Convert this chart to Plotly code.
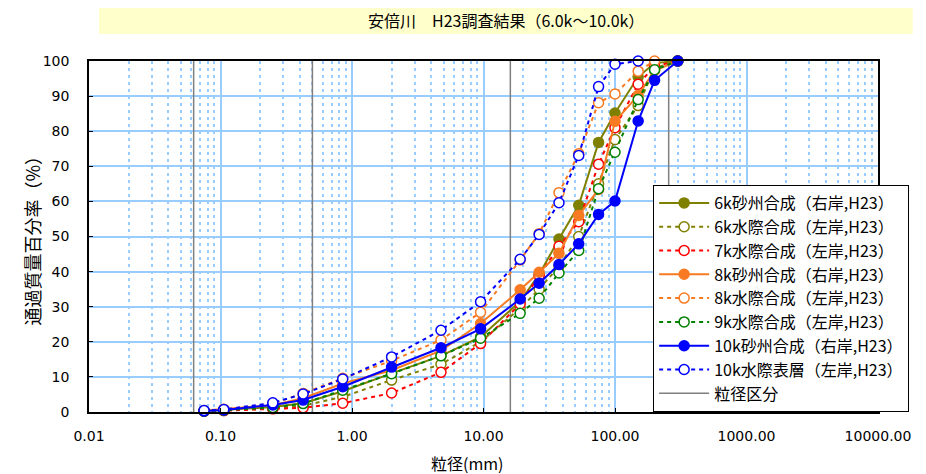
import plotly.graph_objects as go

# sieve sizes (mm)
sizes = [0.075, 0.106, 0.25, 0.425, 0.85, 2, 4.75, 9.5, 19, 26.5, 37.5, 53, 75, 100, 150, 200, 300]

s6_bar   = [0.3, 0.6, 1.4, 2.5, 5.9, 11.0, 16.0, 21.4, 31.5, 39.2, 49.3, 58.9, 76.8, 85.2, 95.5, 99.4, 100]
s6_edge  = [0.2, 0.4, 1.0, 1.8, 4.3, 9.1, 13.6, 20.0, 29.5, 35.0, 41.5, 50.0, 65.0, 77.6, 87.3, 98.0, 100]
s7_edge  = [0.2, 0.4, 0.9, 1.2, 2.5, 5.4, 11.3, 19.5, 30.8, 38.9, 47.2, 54.2, 70.6, 81.0, 93.4, 98.5, 100]
s8_bar   = [0.4, 0.8, 1.9, 3.9, 8.1, 11.9, 17.5, 25.2, 34.8, 39.8, 45.2, 56.0, 63.4, 82.8, 90.2, 97.3, 100]
s8_edge  = [0.3, 0.6, 2.4, 5.3, 9.6, 14.6, 20.5, 28.4, 43.3, 50.8, 62.5, 73.6, 88.1, 90.6, 97.1, 100, None]
s9_edge  = [0.2, 0.5, 1.3, 2.4, 6.2, 10.9, 16.0, 21.0, 28.1, 32.4, 39.6, 46.0, 63.6, 74.0, 89.0, 97.5, 100]
s10_bar  = [0.3, 0.6, 2.0, 3.4, 7.2, 12.8, 18.3, 23.7, 32.2, 36.7, 42.0, 47.9, 56.3, 60.1, 82.9, 94.5, 100]
s10_surf = [0.4, 0.7, 2.6, 5.1, 9.4, 15.7, 23.3, 31.4, 43.5, 50.6, 59.6, 73.1, 92.7, 99.1, 100, None, None]

names = ["6k砂州合成（右岸,H23）", "6k水際合成（左岸,H23）", "7k水際合成（左岸,H23）",
         "8k砂州合成（右岸,H23）", "8k水際合成（左岸,H23）", "9k水際合成（左岸,H23）",
         "10k砂州合成（右岸,H23）", "10k水際表層（左岸,H23）"]
series = [s6_bar, s6_edge, s7_edge, s8_bar, s8_edge, s9_edge, s10_bar, s10_surf]
colors = ["#808000", "#808000", "#FF0000", "#F87A22", "#F87A22", "#008000", "#0000FF", "#0000FF"]
filled = [True, False, False, True, False, False, True, False]

class_bounds = [0.0625, 0.5, 16, 256]

x_ticks = [0.01, 0.1, 1, 10, 100, 1000, 10000]
x_ticktext = ["0.01", "0.10", "1.00", "10.00", "100.00", "1000.00", "10000.00"]

GRID = "#99CCFF"
fig = go.Figure()

# grain size class boundaries
gx, gy = [], []
for b in class_bounds:
    gx += [b, b, None]
    gy += [0, 100, None]
fig.add_trace(go.Scatter(x=gx, y=gy, mode="lines", name="粒径区分",
                         line=dict(color="#7F7F7F", width=1.5), legendrank=9))

for i, (nm, ys, c, f) in enumerate(zip(names, series, colors, filled)):
    xs = [s for s, v in zip(sizes, ys) if v is not None]
    yv = [v for v in ys if v is not None]
    fig.add_trace(go.Scatter(
        x=xs, y=yv, mode="lines+markers", name=nm, legendrank=i + 1,
        cliponaxis=False,
        line=dict(color=c, width=2, dash=None if f else "4px,4px"),
        marker=dict(symbol="circle", size=10,
                    color=c if f else "white",
                    line=dict(color=c, width=1.5)),
    ))

minor_vals = [m * 10 ** k for k in range(-2, 4) for m in range(2, 10)]

fig.update_layout(
    width=919, height=467,
    margin=dict(l=81, r=49, t=53, b=63, autoexpand=False),
    paper_bgcolor="white", plot_bgcolor="white",
    font=dict(family="DejaVu Sans", size=14, color="black"),
    showlegend=True,
    legend=dict(x=0.715, y=0, xanchor="left", yanchor="bottom",
                bgcolor="white", bordercolor="black", borderwidth=1,
                font=dict(family="Noto Sans CJK JP", size=16),
                itemwidth=50, tracegroupgap=0),
    xaxis=dict(type="log", range=[-2, 4],
               tickvals=x_ticks, ticktext=x_ticktext,
               showgrid=True, gridcolor=GRID, gridwidth=2,
               showline=True, linecolor="black", linewidth=1.5, mirror=True,
               ticks="inside", ticklen=4, tickcolor="black",
               ticklabelstandoff=10, automargin=False,
               minor=dict(tickvals=minor_vals, showgrid=True, gridcolor=GRID,
                          gridwidth=2, griddash="3px,4px", ticks=""),
               zeroline=False),
    yaxis=dict(range=[0, 100], dtick=10, tick0=0,
               showgrid=True, gridcolor=GRID, gridwidth=2,
               showline=True, linecolor="black", linewidth=1.5, mirror=True,
               ticks="inside", ticklen=4, tickcolor="black",
               ticklabelstandoff=15, automargin=False, zeroline=False),
    shapes=[dict(type="rect", xref="paper", yref="paper",
                 x0=0.0127, x1=1.044, y0=1.077, y1=1.157,
                 fillcolor="#FFFFCC", line=dict(width=0), layer="below")],
    annotations=[
        dict(text="安倍川　H23調査結果（6.0k～10.0k）", xref="paper", yref="paper",
             x=0.528, y=1.117, xanchor="center", yanchor="middle", showarrow=False,
             font=dict(family="Noto Sans CJK JP", size=16)),
        dict(text="粒径(mm)", xref="paper", yref="paper",
             x=0.479, y=-0.145, xanchor="center", yanchor="middle", showarrow=False,
             font=dict(family="Noto Sans CJK JP", size=16)),
        dict(text="通過質量百分率（%）", xref="paper", yref="paper",
             x=-0.0735, y=0.5, xanchor="center", yanchor="middle", showarrow=False,
             textangle=-90, font=dict(family="Noto Sans CJK JP", size=18)),
    ],
)

fig.write_html("out.html")
